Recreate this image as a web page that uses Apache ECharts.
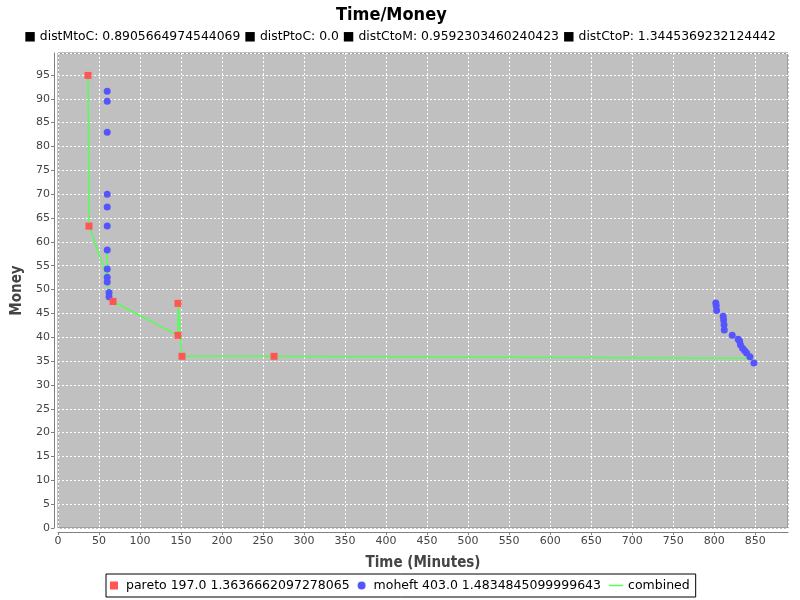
<!DOCTYPE html>
<html>
<head>
<meta charset="utf-8">
<script src="https://cdn.jsdelivr.net/npm/echarts@6/dist/echarts.min.js"></script>
<style>html,body{margin:0;padding:0;background:#fff;}#c{width:800px;height:600px;}</style>
</head>
<body>
<div id="c"></div>
<script>
var titleText = 'Time/Money';
var subText = '\u25A0 distMtoC: 0.8905664974544069 \u25A0 distPtoC: 0.0 \u25A0 distCtoM: 0.9592303460240423 \u25A0 distCtoP: 1.3445369232124442';
var seriesNames = ['pareto 197.0 1.3636662097278065', 'moheft 403.0 1.4834845099999643', 'combined'];

var paretoX = [36.6, 37.8, 67.1, 146.3, 146.3, 151.2, 263.4];
var paretoY = [94.9, 63.3, 47.5, 47.1, 40.4, 36.0, 36.0];

var moheftX = [60.0, 60.0, 60.0, 60.0, 60.0, 60.0, 60.0, 60.0, 60.0, 60.0, 62.2, 62.2,
               802.0, 802.5, 803.0, 811.0, 811.5, 812.0, 812.3, 822.0, 829.3, 831.0, 832.0, 834.6, 837.0, 839.5, 843.6, 848.4];
var moheftY = [91.6, 89.5, 83.0, 70.0, 67.3, 63.3, 58.3, 54.3, 52.6, 51.6, 49.4, 48.5,
               47.2, 46.6, 45.6, 44.4, 43.6, 42.6, 41.5, 40.4, 39.6, 39.2, 38.4, 37.7, 37.2, 36.7, 35.9, 34.6];

var combinedX = [36.6, 37.8, 60.0, 60.0, 60.0, 62.2, 62.2, 67.1, 146.3, 146.5, 151.2, 263.4, 843.6];
var combinedY = [94.9, 63.3, 52.6, 58.3, 51.6, 49.4, 48.5, 47.5, 40.4, 47.1, 36.0, 36.0, 35.6];

var xTicks = {min: 0, max: 890, interval: 50};
var yTicks = {min: 0, max: 99.6, interval: 5};

function zip(a, b) { return a.map(function (v, i) { return [v, b[i]]; }); }

var chart = echarts.init(document.getElementById('c'), null, {renderer: 'canvas'});
var FONT = 'DejaVu Sans';
var CFONT = '"DejaVu Sans Condensed", "DejaVu Sans"';
chart.setOption({
  animation: false,
  backgroundColor: '#ffffff',
  title: [
    {text: titleText, left: 331, top: 1,
     textStyle: {fontFamily: CFONT, fontSize: 18, fontWeight: 'bold', color: '#000'}},
    {text: subText, left: 'center', top: 26,
     textStyle: {fontFamily: FONT, fontSize: 12.4, fontWeight: 'normal', color: '#000'}}
  ],
  legend: {
    bottom: 3, left: 106,
    orient: 'horizontal',
    borderColor: '#000', borderWidth: 1, borderRadius: 0,
    padding: [5, 6, 5, 4],
    itemGap: 8, itemWidth: 14, itemHeight: 8,
    textStyle: {fontFamily: FONT, fontSize: 12.5, color: '#000'},
    data: [
      {name: seriesNames[0], icon: 'path://M0,0L8,0L8,8L0,8Z', itemStyle: {color: '#FF5555'}},
      {name: seriesNames[1], icon: 'circle', itemStyle: {color: '#5555FF'}},
      {name: seriesNames[2], icon: 'path://M0,0L14,0L14,1.5L0,1.5Z', itemStyle: {color: '#55FF55'}}
    ]
  },
  grid: {left: 58, right: 12, top: 53, bottom: 72, show: true, outerBoundsMode: 'none', containLabel: false,
         backgroundColor: '#c0c0c0', borderColor: '#808080', borderWidth: 1},
  xAxis: {
    type: 'value', min: xTicks.min, max: xTicks.max, interval: xTicks.interval,
    offset: 4,
    name: 'Time (Minutes)', nameLocation: 'middle', nameGap: 24,
    nameTextStyle: {fontFamily: CFONT, fontSize: 15, fontWeight: 'bold', color: '#444'},
    axisLine: {show: true, onZero: false, lineStyle: {color: '#808080', width: 1}},
    axisTick: {show: true, length: 3, lineStyle: {color: '#808080'}},
    axisLabel: {fontFamily: FONT, fontSize: 11, color: '#444', margin: 4, showMaxLabel: false},
    splitLine: {show: true, lineStyle: {color: '#ffffff', type: [2, 2], width: 1}}
  },
  yAxis: {
    type: 'value', min: yTicks.min, max: yTicks.max, interval: yTicks.interval,
    offset: 4,
    name: 'Money', nameLocation: 'middle', nameGap: 26, nameRotate: 90,
    nameTextStyle: {fontFamily: CFONT, fontSize: 15, fontWeight: 'bold', color: '#444'},
    axisLine: {show: true, onZero: false, lineStyle: {color: '#808080', width: 1}},
    axisTick: {show: true, length: 3, lineStyle: {color: '#808080'}},
    axisLabel: {fontFamily: FONT, fontSize: 11, color: '#444', margin: 4, showMaxLabel: false},
    splitLine: {show: true, lineStyle: {color: '#ffffff', type: [2, 2], width: 1}}
  },
  series: [
    {name: seriesNames[2], type: 'line', data: zip(combinedX, combinedY),
     showSymbol: false, symbol: 'none', z: 1,
     lineStyle: {color: '#55FF55', width: 1.5}, itemStyle: {color: '#55FF55'}},
    {name: seriesNames[1], type: 'scatter', data: zip(moheftX, moheftY),
     symbol: 'circle', symbolSize: 7, z: 2, itemStyle: {color: '#5555FF', opacity: 1}},
    {name: seriesNames[0], type: 'scatter', data: zip(paretoX, paretoY),
     symbol: 'rect', symbolSize: 7, z: 3, itemStyle: {color: '#FF5555', opacity: 1}}
  ]
});
</script>
</body>
</html>
